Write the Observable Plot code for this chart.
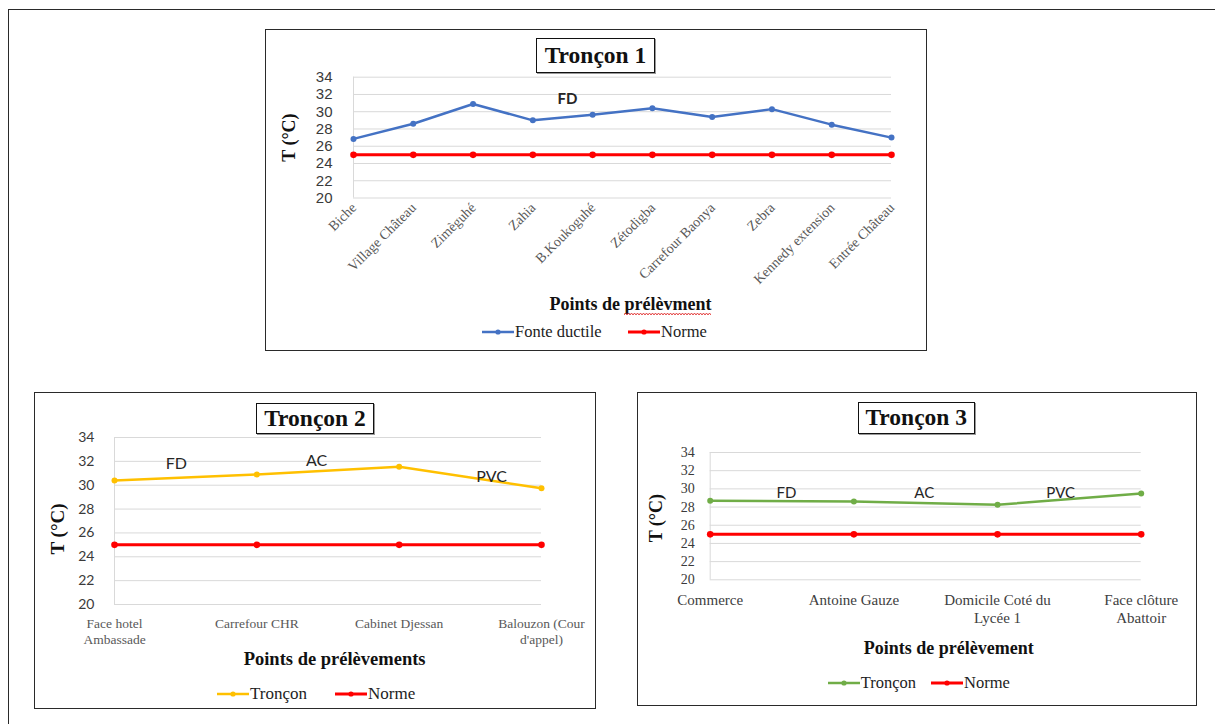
<!DOCTYPE html>
<html><head><meta charset="utf-8">
<script src="https://cdn.jsdelivr.net/npm/d3@7"></script>
<script src="https://cdn.jsdelivr.net/npm/@observablehq/plot@0.6"></script>
<style>
html,body{margin:0;padding:0;background:#fff;}
#page{position:relative;width:1215px;height:724px;overflow:hidden;background:#fff;}
.frame{position:absolute;border:1.5px solid #2a2a2a;box-sizing:border-box;}
.title{position:absolute;border:1.5px solid #111;box-sizing:border-box;font-family:"Liberation Serif",serif;font-weight:bold;font-size:23.5px;display:flex;align-items:center;justify-content:center;color:#111;background:#fff;box-shadow:1px 1px 0 #999;}
.holder{position:absolute;}
.holder svg{display:block;overflow:visible;}
.leg{position:absolute;display:flex;align-items:center;font-family:"Liberation Serif",serif;color:#222;white-space:nowrap;transform:translateY(-50%);}
.leg svg{display:block;margin-right:1px;}
.squiggle{position:absolute;height:6px;background-repeat:repeat-x;background-size:6px 4px;
  background-image:url("data:image/svg+xml;utf8,<svg xmlns='http://www.w3.org/2000/svg' width='6' height='4'><path d='M0 3 L1.5 1 L3 3 L4.5 1 L6 3' fill='none' stroke='%23e03030' stroke-width='0.9'/></svg>");}
</style></head>
<body><div id="page"></div>
<script>
// ---------- data ----------
const yTicks = [20, 22, 24, 26, 28, 30, 32, 34];

// Tronçon 1
const t1Points = ["Biche", "Village Château", "Zimèguhé", "Zahia", "B.Koukoguhé", "Zétodigba", "Carrefour Baonya", "Zebra", "Kennedy extension", "Entrée Château"];
const t1FonteDuctile = [26.85, 28.6, 30.9, 29.0, 29.65, 30.4, 29.4, 30.3, 28.5, 27.0];
const t1Norme = [25, 25, 25, 25, 25, 25, 25, 25, 25, 25];
const t1MaterialText = ["FD"];
const t1MaterialAt = [3.58];
const t1MaterialT = [31.5];

// Tronçon 2
const t2Points = ["Face hotel Ambassade", "Carrefour CHR", "Cabinet Djessan", "Balouzon (Cour d'appel)"];
const t2TickLabels = ["Face hotel\nAmbassade", "Carrefour CHR", "Cabinet Djessan", "Balouzon (Cour\nd'appel)"];
const t2Troncon = [30.4, 30.9, 31.55, 29.75];
const t2Norme = [25, 25, 25, 25];
const t2MaterialText = ["FD", "AC", "PVC"];
const t2MaterialAt = [0.435, 1.42, 2.65];
const t2MaterialT = [31.8, 32.0, 30.7];

// Tronçon 3
const t3Points = ["Commerce", "Antoine Gauze", "Domicile Coté du Lycée 1", "Face clôture Abattoir"];
const t3TickLabels = ["Commerce", "Antoine Gauze", "Domicile Coté du\nLycée 1", "Face clôture\nAbattoir"];
const t3Troncon = [28.7, 28.6, 28.25, 29.5];
const t3Norme = [25, 25, 25, 25];
const t3MaterialText = ["FD", "AC", "PVC"];
const t3MaterialAt = [0.53, 1.49, 2.44];
const t3MaterialT = [29.55, 29.55, 29.55];

const BLUE = "#4472C4", RED = "#FF0000", YELLOW = "#FFC000", GREEN = "#70AD47";

// ---------- helpers ----------
const page = document.getElementById("page");
function div(cls, css, html) {
  const d = document.createElement("div");
  d.className = cls;
  Object.assign(d.style, css);
  if (html != null) d.innerHTML = html;
  page.appendChild(d);
  return d;
}
function px(v) { return v + "px"; }

function legendItem(x, y, color, label, size) {
  const d = div("leg", {left: px(x), top: px(y), fontSize: px(size)});
  d.innerHTML = `<svg width="32" height="10"><line x1="0" y1="5" x2="32" y2="5" stroke="${color}" stroke-width="${color === RED ? 3 : 2.5}"/><circle cx="16" cy="5" r="2.6" fill="${color}"/></svg><span>${label}</span>`;
}

function chart(cfg) {
  const n = cfg.points.length;
  const rows = vals => vals.map((v, i) => ({i, v, name: cfg.points[i]}));
  const s = rows(cfg.series), nr = rows(cfg.norme);
  const mats = cfg.matText.map((t, k) => ({t, x: cfg.matAt[k], y: cfg.matT[k]}));
  const plot = Plot.plot({
    width: cfg.W, height: cfg.H,
    marginLeft: cfg.mL, marginRight: cfg.mR, marginTop: cfg.mT, marginBottom: cfg.mB,
    style: {background: "transparent", overflow: "visible"},
    x: {type: "linear", domain: [0, n - 1], axis: null, label: null},
    y: {type: "linear", domain: [20, 34], axis: null, label: null},
    marks: [
      Plot.gridY(yTicks, {stroke: "#d9d9d9", strokeOpacity: 1, strokeWidth: 1}),
      Plot.ruleX([0], {stroke: "#d9d9d9", strokeWidth: 1}),
      Plot.axisY(yTicks, {tickSize: 0, tickPadding: cfg.yPad, fontSize: cfg.yFontSize, fontFamily: cfg.yFont, fill: "#3a3a3a", label: null}),
      Plot.axisX(d3.range(n), {tickSize: 0, tickPadding: cfg.xPad, tickRotate: cfg.xRotate || 0,
        tickFormat: i => cfg.tickLabels[i], fontFamily: "Liberation Serif", fontSize: cfg.xFontSize,
        fill: cfg.xFill, lineHeight: cfg.xLineHeight || 1.15, label: null}),
      Plot.line(nr, {x: "i", y: "v", stroke: RED, strokeWidth: 3}),
      Plot.dot(nr, {x: "i", y: "v", r: 3.3, fill: RED}),
      Plot.line(s, {x: "i", y: "v", stroke: cfg.color, strokeWidth: 2.5}),
      Plot.dot(s, {x: "i", y: "v", r: 3, fill: cfg.color}),
      Plot.text(mats, {x: "x", y: "y", text: "t", fontFamily: "Lato", fontSize: cfg.matSize, fontWeight: cfg.matWeight, fill: "#262626"}),
      Plot.text([cfg.yTitle], {text: d => d, frameAnchor: "left", textAnchor: "middle", lineAnchor: "middle", rotate: -90,
        dx: cfg.yTitleDx, dy: cfg.yTitleDy, fontFamily: "Liberation Serif", fontWeight: "bold", fontSize: cfg.yTitleSize, fill: "#111"}),
      Plot.text([cfg.xTitle], {text: d => d, frameAnchor: "bottom", textAnchor: "middle", lineAnchor: "middle",
        dx: cfg.xTitleDx, dy: cfg.xTitleDy, fontFamily: "Liberation Serif", fontWeight: "bold", fontSize: cfg.xTitleSize, fill: "#111"})
    ]
  });
  const h = div("holder", {left: px(cfg.left), top: px(cfg.top), width: px(cfg.W), height: px(cfg.H)});
  h.appendChild(plot);
}

// ---------- outer frame ----------
div("frame", {left: "8px", top: "9px", width: "1300px", height: "800px"});

// ---------- Tronçon 1 ----------
div("frame", {left: "265px", top: "29px", width: "662px", height: "322px"});
const c1 = {
  left: 265, top: 29, W: 662, H: 322, mL: 88, mR: 36, mT: 47.7, mB: 153.5,
  points: t1Points, tickLabels: t1Points, series: t1FonteDuctile, norme: t1Norme, color: BLUE,
  matText: t1MaterialText, matAt: t1MaterialAt, matT: t1MaterialT, matSize: 15, matWeight: "bold",
  yPad: 21, yFont: "Liberation Sans Narrow, Liberation Sans, sans-serif", yFontSize: 15,
  xPad: 7, xRotate: -45, xFontSize: 14, xFill: "#595959",
  yTitle: "T (°C)", yTitleDx: -64, yTitleDy: 0, yTitleSize: 18,
  xTitle: "Points de prélèvment", xTitleDx: 8, xTitleDy: 106, xTitleSize: 18
};
chart(c1);
div("title", {left: "536px", top: "38px", width: "119px", height: "35px"}, "Tronçon 1");
legendItem(482, 331.7, BLUE, "Fonte ductile", 16.5);
legendItem(628, 331.7, RED, "Norme", 16.5);

// spell-check squiggle under "prélèvment" (as in the source screenshot)
(function () {
  const ctx = document.createElement("canvas").getContext("2d");
  ctx.font = `bold ${c1.xTitleSize}px "Liberation Serif"`;
  const full = ctx.measureText(c1.xTitle).width;
  const pre = ctx.measureText("Points de ").width;
  const word = ctx.measureText("prélèvment").width;
  const cx = c1.left + c1.mL + (c1.W - c1.mL - c1.mR) / 2 + c1.xTitleDx;
  const cy = c1.top + c1.H - c1.mB + c1.xTitleDy;
  div("squiggle", {left: px(cx - full / 2 + pre), top: px(cy + 8), width: px(word)});
})();

// ---------- Tronçon 2 ----------
div("frame", {left: "33.5px", top: "391.7px", width: "562px", height: "317px"});
chart({
  left: 33.5, top: 391.7, W: 562, H: 317, mL: 80, mR: 55, mT: 45, mB: 105,
  points: t2Points, tickLabels: t2TickLabels, series: t2Troncon, norme: t2Norme, color: YELLOW,
  matText: t2MaterialText, matAt: t2MaterialAt, matT: t2MaterialT, matSize: 16, matWeight: "normal",
  yPad: 20, yFont: "Lato", yFontSize: 14,
  xPad: 12, xRotate: 0, xFontSize: 13.5, xFill: "#595959", xLineHeight: 1.2,
  yTitle: "T (°C)", yTitleDx: -56.6, yTitleDy: 8, yTitleSize: 19,
  xTitle: "Points de prélèvements", xTitleDx: 6.6, xTitleDy: 54.3, xTitleSize: 18.5
});
div("title", {left: "256px", top: "403px", width: "118px", height: "30.5px"}, "Tronçon 2");
legendItem(217, 694, YELLOW, "Tronçon", 17);
legendItem(335, 694, RED, "Norme", 17);

// ---------- Tronçon 3 ----------
div("frame", {left: "636.8px", top: "391.7px", width: "560px", height: "314px"});
chart({
  left: 636.8, top: 391.7, W: 560, H: 314, mL: 72.7, mR: 56.3, mT: 60, mB: 126.7,
  points: t3Points, tickLabels: t3TickLabels, series: t3Troncon, norme: t3Norme, color: GREEN,
  matText: t3MaterialText, matAt: t3MaterialAt, matT: t3MaterialT, matSize: 15, matWeight: "normal",
  yPad: 15.5, yFont: "Liberation Serif", yFontSize: 14,
  xPad: 12.5, xRotate: 0, xFontSize: 15, xFill: "#404040", xLineHeight: 1.18,
  yTitle: "T (°C)", yTitleDx: -53.5, yTitleDy: 2, yTitleSize: 18,
  xTitle: "Points de prélèvement", xTitleDx: 23, xTitleDy: 68.3, xTitleSize: 18
});
div("title", {left: "857.5px", top: "401.7px", width: "117.5px", height: "32.6px"}, "Tronçon 3");
legendItem(827.7, 682.7, GREEN, "Tronçon", 16.5);
legendItem(931, 682.7, RED, "Norme", 16.5);
</script>
</body></html>
